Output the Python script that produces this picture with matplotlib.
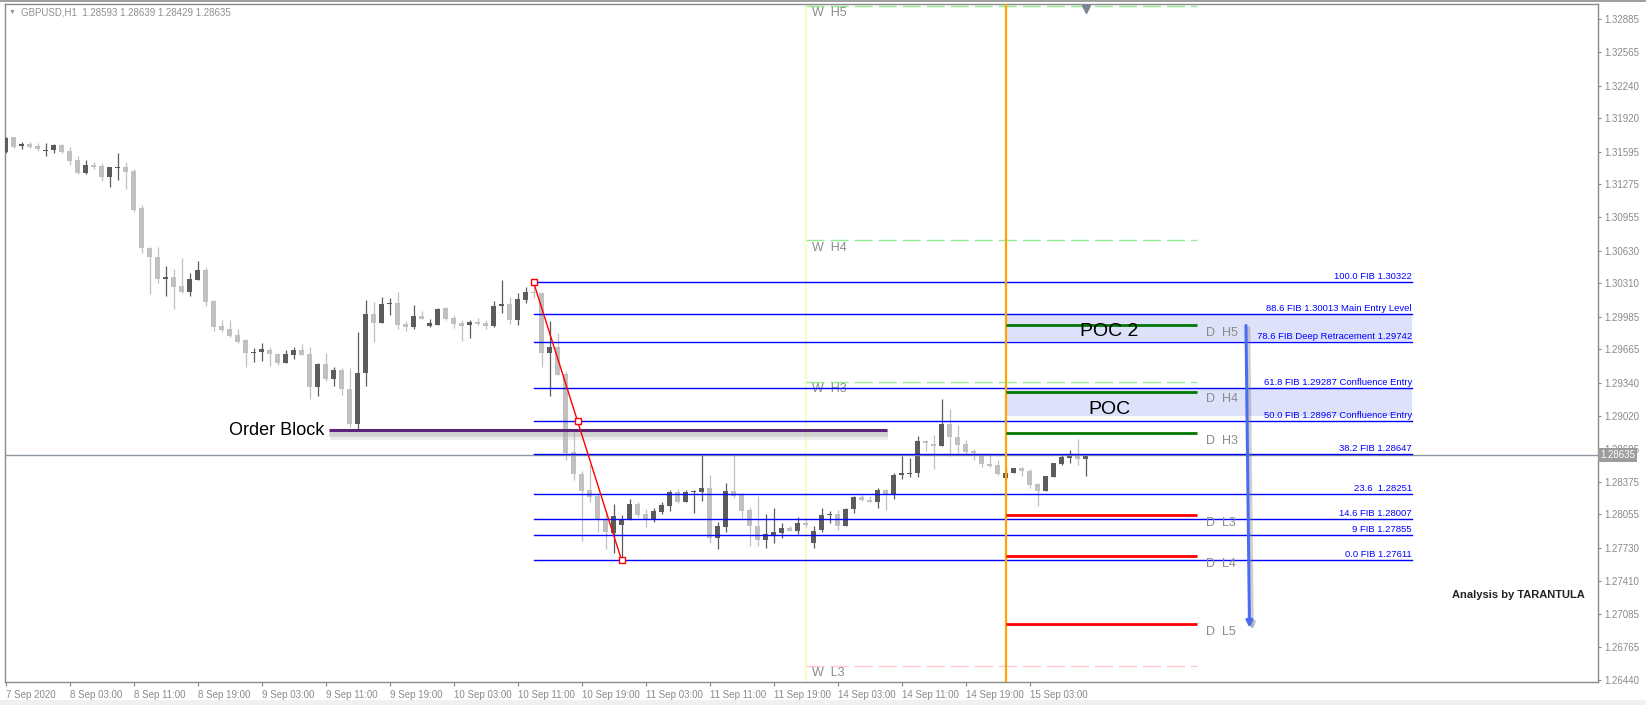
import matplotlib
matplotlib.use('Agg')
import matplotlib.pyplot as plt
import matplotlib.patheffects as pe
from matplotlib.patches import Rectangle
import numpy as np

# GBPUSD H1 candles (index 0 = 7 Sep 19:00)
opens = [1.31595, 1.31735, 1.31647, 1.31670, 1.31650, 1.31598, 1.31608, 1.31663, 1.31598, 1.31514,
         1.31390, 1.31468, 1.31455, 1.31351, 1.31436, 1.31442, 1.31410, 1.31042, 1.30652, 1.30567,
         1.30356, 1.30375, 1.30284, 1.30229, 1.30346, 1.30440, 1.30138, 1.29897, 1.29861, 1.29806,
         1.29757, 1.29627, 1.29637, 1.29659, 1.29620, 1.29536, 1.29614, 1.29659, 1.29620, 1.29295,
         1.29522, 1.29379, 1.29464, 1.29278, 1.28934, 1.29431, 1.30010, 1.29926, 1.30105, 1.30121,
         1.29913, 1.29887, 1.29991, 1.29897, 1.29906, 1.30069, 1.29971, 1.29926, 1.29906, 1.29936,
         1.29926, 1.29893, 1.30085, 1.30108, 1.29952, 1.30147, 1.30225, 1.30212, 1.29633, 1.29685,
         1.29424, 1.28660, 1.28445, 1.28292, 1.28234, 1.28006, 1.27876, 1.27951, 1.28006, 1.28153,
         1.28055, 1.27999, 1.28081, 1.28140, 1.28270, 1.28179, 1.28270, 1.28276, 1.28309, 1.27827,
         1.27935, 1.28286, 1.28244, 1.28097, 1.27944, 1.27804, 1.27853, 1.27876, 1.27925, 1.27896,
         1.27967, 1.27772, 1.27903, 1.28046, 1.28059, 1.27945, 1.28104, 1.28225, 1.28195, 1.28173,
         1.28293, 1.28254, 1.28436, 1.28452, 1.28456, 1.28771, 1.28742, 1.28726, 1.28937, 1.28807,
         1.28742, 1.28674, 1.28634, 1.28543, 1.28537, 1.28407, 1.28456, 1.28511, 1.28478, 1.28351,
         1.28286, 1.28423, 1.28547, 1.28608, 1.28634, 1.28593]
highs = [1.31735, 1.31741, 1.31686, 1.31693, 1.31683, 1.31683, 1.31670, 1.31670, 1.31644, 1.31553,
         1.31514, 1.31497, 1.31481, 1.31449, 1.31579, 1.31494, 1.31423, 1.31074, 1.30661, 1.30668,
         1.30482, 1.30450, 1.30561, 1.30408, 1.30528, 1.30473, 1.30144, 1.29952, 1.29952, 1.29864,
         1.29764, 1.29682, 1.29731, 1.29692, 1.29627, 1.29659, 1.29685, 1.29714, 1.29685, 1.29529,
         1.29633, 1.29490, 1.29480, 1.29480, 1.29835, 1.30147, 1.30131, 1.30180, 1.30163, 1.30222,
         1.29945, 1.30098, 1.30040, 1.29958, 1.30066, 1.30082, 1.30001, 1.29952, 1.29952, 1.29968,
         1.29952, 1.30141, 1.30342, 1.30180, 1.30219, 1.30277, 1.30322, 1.30228, 1.29942, 1.29828,
         1.29454, 1.28884, 1.28478, 1.28536, 1.28260, 1.28058, 1.28153, 1.28049, 1.28201, 1.28172,
         1.28104, 1.28120, 1.28179, 1.28292, 1.28299, 1.28292, 1.28292, 1.28634, 1.28439, 1.27977,
         1.28364, 1.28644, 1.28260, 1.28123, 1.28234, 1.28058, 1.28120, 1.27967, 1.27940, 1.28032,
         1.28016, 1.27944, 1.28114, 1.28088, 1.28098, 1.28114, 1.28234, 1.28244, 1.28234, 1.28309,
         1.28299, 1.28456, 1.28625, 1.28602, 1.28820, 1.28781, 1.28830, 1.29181, 1.29080, 1.28927,
         1.28781, 1.28693, 1.28657, 1.28651, 1.28586, 1.28498, 1.28504, 1.28521, 1.28495, 1.28358,
         1.28430, 1.28560, 1.28634, 1.28683, 1.28788, 1.28639]
lows = [1.31585, 1.31627, 1.31624, 1.31627, 1.31605, 1.31556, 1.31579, 1.31585, 1.31462, 1.31374,
        1.31380, 1.31429, 1.31312, 1.31253, 1.31318, 1.31231, 1.31009, 1.30603, 1.30203, 1.30317,
        1.30190, 1.30063, 1.30219, 1.30190, 1.30346, 1.30092, 1.29848, 1.29835, 1.29790, 1.29731,
        1.29490, 1.29546, 1.29555, 1.29503, 1.29513, 1.29529, 1.29575, 1.29607, 1.29178, 1.29213,
        1.29360, 1.29311, 1.29217, 1.28911, 1.28878, 1.29311, 1.29740, 1.29926, 1.30001, 1.29861,
        1.29848, 1.29867, 1.29958, 1.29887, 1.29906, 1.29952, 1.29874, 1.29750, 1.29776, 1.29906,
        1.29867, 1.29887, 1.30023, 1.29913, 1.29900, 1.30115, 1.30163, 1.29496, 1.29213, 1.29415,
        1.28585, 1.28390, 1.27795, 1.28172, 1.27886, 1.27720, 1.27680, 1.27611, 1.27999, 1.28026,
        1.27935, 1.27983, 1.28055, 1.28091, 1.28162, 1.28172, 1.28074, 1.28188, 1.27779, 1.27713,
        1.27886, 1.28211, 1.28009, 1.27749, 1.27749, 1.27723, 1.27779, 1.27827, 1.27896, 1.27863,
        1.27935, 1.27723, 1.27880, 1.27968, 1.27903, 1.27945, 1.28072, 1.28186, 1.28173, 1.28114,
        1.28098, 1.28202, 1.28397, 1.28417, 1.28417, 1.28677, 1.28498, 1.28726, 1.28625, 1.28651,
        1.28634, 1.28586, 1.28514, 1.28521, 1.28439, 1.28391, 1.28456, 1.28430, 1.28309, 1.28140,
        1.28286, 1.28417, 1.28537, 1.28553, 1.28537, 1.28429]
closes = [1.31725, 1.31644, 1.31673, 1.31644, 1.31618, 1.31611, 1.31663, 1.31592, 1.31507, 1.31390,
          1.31465, 1.31449, 1.31351, 1.31442, 1.31445, 1.31400, 1.31026, 1.30652, 1.30564, 1.30349,
          1.30372, 1.30277, 1.30229, 1.30352, 1.30440, 1.30131, 1.29887, 1.29855, 1.29799, 1.29738,
          1.29627, 1.29643, 1.29666, 1.29617, 1.29536, 1.29617, 1.29659, 1.29610, 1.29295, 1.29522,
          1.29379, 1.29461, 1.29275, 1.28934, 1.29431, 1.30010, 1.29919, 1.30108, 1.30121, 1.29906,
          1.29887, 1.29991, 1.29965, 1.29919, 1.30059, 1.29965, 1.29916, 1.29897, 1.29932, 1.29916,
          1.29893, 1.30088, 1.30108, 1.29952, 1.30154, 1.30225, 1.30215, 1.29633, 1.29685, 1.29415,
          1.28650, 1.28445, 1.28286, 1.28227, 1.27999, 1.27886, 1.28039, 1.28006, 1.28153, 1.28049,
          1.28006, 1.28088, 1.28146, 1.28270, 1.28172, 1.28270, 1.28286, 1.28309, 1.27827, 1.27941,
          1.28286, 1.28234, 1.28091, 1.27944, 1.27804, 1.27860, 1.27879, 1.27925, 1.27896, 1.27967,
          1.27951, 1.27892, 1.28049, 1.28062, 1.27945, 1.28104, 1.28228, 1.28192, 1.28173, 1.28293,
          1.28254, 1.28439, 1.28456, 1.28459, 1.28771, 1.28748, 1.28726, 1.28937, 1.28807, 1.28735,
          1.28667, 1.28651, 1.28543, 1.28527, 1.28446, 1.28456, 1.28504, 1.28478, 1.28342, 1.28286,
          1.28430, 1.28553, 1.28612, 1.28628, 1.28592, 1.28635]

time_labels = ['7 Sep 2020', '8 Sep 03:00', '8 Sep 11:00', '8 Sep 19:00', '9 Sep 03:00', '9 Sep 11:00',
               '9 Sep 19:00', '10 Sep 03:00', '10 Sep 11:00', '10 Sep 19:00', '11 Sep 03:00',
               '11 Sep 11:00', '11 Sep 19:00', '14 Sep 03:00', '14 Sep 11:00', '14 Sep 19:00', '15 Sep 03:00']
price_ticks = [1.32885, 1.32565, 1.32240, 1.31920, 1.31595, 1.31275, 1.30955, 1.30630, 1.30310, 1.29985,
               1.29665, 1.29340, 1.29020, 1.28695, 1.28375, 1.28055, 1.27730, 1.27410, 1.27085, 1.26765,
               1.26440]

# Fibonacci retracement
fib_high, fib_low = 1.30322, 1.27611
fib_levels = [1.30322, 1.30013, 1.29742, 1.29287, 1.28967, 1.28647, 1.28251, 1.28007, 1.27855, 1.27611]
fib_texts = ['100.0 FIB 1.30322', '88.6 FIB 1.30013 Main Entry Level', '78.6 FIB Deep Retracement 1.29742',
             '61.8 FIB 1.29287 Confluence Entry', '50.0 FIB 1.28967 Confluence Entry', '38.2 FIB 1.28647',
             '23.6  1.28251', '14.6 FIB 1.28007', '9 FIB 1.27855', '0.0 FIB 1.27611']

# Daily / weekly pivots
daily_levels = [1.29899, 1.29254, 1.28853, 1.28048, 1.27650, 1.26983]
daily_names = ['D  H5', 'D  H4', 'D  H3', 'D  L3', 'D  L4', 'D  L5']
weekly_levels = [1.33016, 1.30729, 1.29345, 1.26580]
weekly_names = ['W  H5', 'W  H4', 'W  H3', 'W  L3']

order_block = 1.28878
poc2_zone = (1.29743, 1.30015)
poc_zone = (1.29015, 1.29280)
target_arrow = (1.29899, 1.26949)
last_price = 1.28635

# ---------------------------------------------------------------
fig = plt.figure(figsize=(16.46, 7.05), dpi=100)
plt.rcParams['font.family'] = 'Liberation Sans'
ax = fig.add_axes([4.5 / 1646, 1 - 682 / 705, (1598 - 4.5) / 1646, (682 - 4) / 705])
ax.set_xlim(-0.125, 199.06)
ax.set_ylim(1.26420, 1.33036)

n = len(opens)
x = np.arange(n)
o = np.array(opens); h = np.array(highs); l = np.array(lows); c = np.array(closes)
up = c >= o
cols = np.where(up, '#5c5c5c', '#c0c0c0')

ax.vlines(x, l, h, colors=cols, lw=0.9, zorder=3)
body_lo = np.minimum(o, c)
body_h = np.maximum(np.abs(c - o), 0.00007)
ax.bar(x, body_h, bottom=body_lo, width=0.56, color=cols, linewidth=0, zorder=4)

# weekly pivot start / daily pivot start
ax.axvline(100, color='#fbfbd0', lw=1.6, zorder=1)
ax.axvline(125, color='#ffa500', lw=1.6, zorder=6)

# weekly pivots
w_end = 148.9
for lev, name in zip(weekly_levels, weekly_names):
    wc = '#ffc8cf' if 'L' in name else '#90ee90'
    ax.plot([100, w_end], [lev, lev], color=wc, lw=1, dashes=(13, 4.3), zorder=2)
    ax.text(100.8, lev - 0.00012, name, color='#8a8a8a', fontsize=9, va='top', ha='left', zorder=5)

# POC zones
for (lo, hi) in [poc2_zone, poc_zone]:
    ax.add_patch(Rectangle((125, lo), 175.8 - 125, hi - lo, facecolor='#dde1fa', edgecolor='none', zorder=1))
ax.text(138, 1.29838, 'POC 2', fontsize=14, ha='center', va='center', color='black', zorder=7)
ax.text(138, 1.29079, 'POC', fontsize=14, ha='center', va='center', color='black', zorder=7)

# fibonacci lines and labels
for lev, txt in zip(fib_levels, fib_texts):
    ax.plot([66, 175.8], [lev, lev], color='#0000ff', lw=1, zorder=5)
    ax.text(175.8, lev + 0.0001, txt, color='#0000ff', fontsize=6.8, ha='right', va='bottom', zorder=7)

# fib trend line
ax.plot([66, 77], [fib_high, fib_low], color='#ff0000', lw=1, zorder=8)
mid = (fib_high + fib_low) / 2
ax.plot([66, 71.5, 77], [fib_high, mid, fib_low], ls='none', marker='s', ms=4.5,
        mfc='white', mec='#ff0000', mew=1, zorder=9)

# current price line
ax.axhline(last_price, color='#8c96a0', lw=1, zorder=4)

# daily pivots
for lev, name in zip(daily_levels, daily_names):
    dc = '#007800' if 'H' in name else '#ff0000'
    ax.plot([125, w_end], [lev, lev], color=dc, lw=2, zorder=6, solid_capstyle='butt')
    ax.text(150, lev - 0.00018, name, color='#8a8a8a', fontsize=9, va='top', ha='left', zorder=7)

# order block
ax.plot([40.4, 110.2], [order_block, order_block], color='#5b2379', lw=2.2, zorder=7,
        solid_capstyle='butt',
        path_effects=[pe.SimpleLineShadow(offset=(0.5, -2.5), shadow_color='#999999', alpha=0.35, linewidth=4),
                      pe.SimpleLineShadow(offset=(1, -4.5), shadow_color='#bbbbbb', alpha=0.25, linewidth=6),
                      pe.Normal()])
ax.text(39.8, order_block, 'Order Block', fontsize=13, ha='right', va='center', color='black', zorder=7)

# target arrow
ax.annotate('', xy=(155.5, target_arrow[1]), xytext=(155.06, target_arrow[0]),
            arrowprops=dict(arrowstyle='-|>', color='#4a6cf2', lw=2.2, mutation_scale=9,
                            shrinkA=0, shrinkB=0,
                            path_effects=[pe.SimpleLineShadow(offset=(2, -1.5), shadow_color='#777777', alpha=0.35),
                                          pe.Normal()]),
            zorder=8)

ax.text(197.4, 1.27268, 'Analysis by TARANTULA', fontsize=8, fontweight='bold', ha='right',
        va='center', color='#222222', zorder=7)

# shift marker at the top
ax.plot([135], [0.993], transform=ax.get_xaxis_transform(), marker='v', ms=6, color='#7a8490',
        clip_on=False, zorder=9)

# axes styling
for s in ['left', 'top', 'right', 'bottom']:
    ax.spines[s].set_color('#8a8a8a')
    ax.spines[s].set_linewidth(1)
ax.yaxis.tick_right()
ax.set_yticks(price_ticks)
ax.set_yticklabels([f'{p:.5f}' for p in price_ticks])
ax.set_xticks(np.arange(len(time_labels)) * 8)
ax.set_xticklabels(time_labels, ha='left')
ax.tick_params(axis='y', which='both', length=2.5, width=0.8, color='#8a8a8a', labelcolor='#8a8a8a',
               labelsize=7, pad=2)
ax.tick_params(axis='x', which='both', length=3, width=0.8, color='#8a8a8a', labelcolor='#8a8a8a',
               labelsize=7, pad=3)
for lab in ax.get_xticklabels():
    lab.set_horizontalalignment('left')

# last price label on the axis
ax.text(1.0015, last_price, '1.28635', transform=ax.get_yaxis_transform(), fontsize=7, color='white',
        ha='left', va='center', zorder=10, clip_on=False,
        bbox=dict(boxstyle='square,pad=0.2', facecolor='#9c9c9c', edgecolor='none'))

# header
fig.text(9 / 1646, 1 - 12.7 / 705, '\u25bc', fontsize=5, color='#909090', va='center', ha='left')
fig.text(20.7 / 1646, 1 - 12.7 / 705, 'GBPUSD,H1  1.28593 1.28639 1.28429 1.28635', fontsize=7,
         color='#909090', va='center', ha='left')

# window frame
fig.add_artist(Rectangle((0, 1 - 2 / 705), 1, 2 / 705, transform=fig.transFigure, facecolor='#a0a0a0',
                         edgecolor='none'))
fig.add_artist(Rectangle((0, 0), 1, 5 / 705, transform=fig.transFigure, facecolor='#f0f0f0',
                         edgecolor='none'))

fig.savefig('out.png', dpi=100)
